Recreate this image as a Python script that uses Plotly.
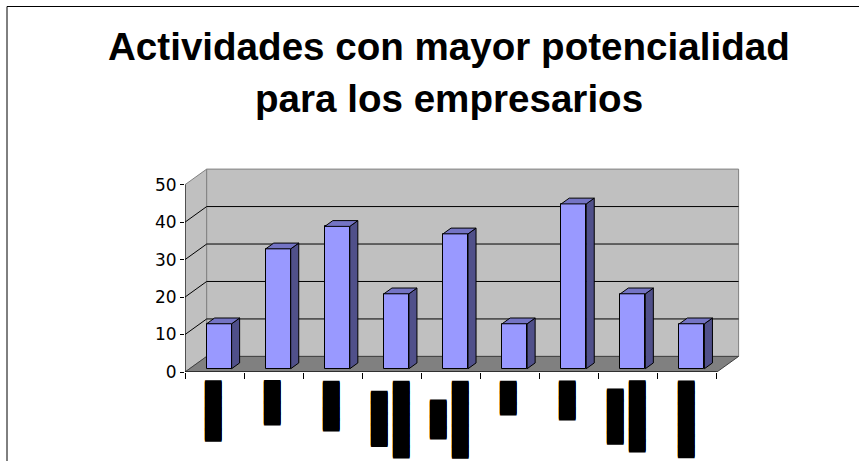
import plotly.graph_objects as go

# Category labels (rendered as solid rotated blocks) and values
categorias = [
    "█████▌",
    "████",
    "████▌",
    "█████<br>███████",
    "███▌<br>███████",
    "███",
    "███▌",
    "█████<br>██████▌",
    "███████",
]
valores = [12, 32, 38, 20, 36, 12, 44, 20, 12]
marcas_y = [0, 10, 20, 30, 40, 50]
titulo = ["Actividades con mayor potencialidad", "para los empresarios"]

W, H = 859, 461
# plot region (pixels) and pixel scale of each axis
izq, der, arriba, abajo = 185, 745, 165, 372
px_cat = 59.1
px_val = 3.746
x_ini = -0.5
x_rango = [x_ini, x_ini + (der - izq) / px_cat]
y_rango = [0, (abajo - arriba) / px_val]

def py_a_paper(py):
    return (abajo - py) / (abajo - arriba)

# depth vector of the 3D box in data units
prof_x = 21.7 / px_cat
prof_y = 15.6 / px_val
n = len(valores)
x_fin = n - 0.5
v_max = marcas_y[-1]

GRIS_PARED = "#c0c0c0"
GRIS_PISO = "#808080"
BORDE = "#808080"

def poligono(pts):
    return "M " + " L ".join(f"{x},{y}" for x, y in pts) + " Z"

shapes = []
# left wall
shapes.append(dict(type="path", xref="x", yref="y", layer="below",
                   path=poligono([(x_ini, 0), (x_ini, v_max),
                                  (x_ini + prof_x, v_max + prof_y), (x_ini + prof_x, prof_y)]),
                   fillcolor=GRIS_PARED, line=dict(color=BORDE, width=1)))
# back wall
shapes.append(dict(type="path", xref="x", yref="y", layer="below",
                   path=poligono([(x_ini + prof_x, prof_y), (x_fin + prof_x, prof_y),
                                  (x_fin + prof_x, v_max + prof_y), (x_ini + prof_x, v_max + prof_y)]),
                   fillcolor=GRIS_PARED, line=dict(color=BORDE, width=1)))
# floor
shapes.append(dict(type="path", xref="x", yref="y", layer="below",
                   path=poligono([(x_ini, 0), (x_fin, 0), (x_fin + prof_x, prof_y), (x_ini + prof_x, prof_y)]),
                   fillcolor=GRIS_PISO, line=dict(color="#404040", width=1)))
# gridlines on side and back walls
for v in marcas_y[1:-1]:
    shapes.append(dict(type="path", xref="x", yref="y", layer="below",
                       path=f"M {x_ini},{v} L {x_ini + prof_x},{v + prof_y} L {x_fin + prof_x},{v + prof_y}",
                       line=dict(color="black", width=1)))
# value axis line and front floor edge
shapes.append(dict(type="line", xref="x", yref="y", layer="below",
                   x0=x_ini, y0=0, x1=x_ini, y1=v_max, line=dict(color="black", width=1)))
shapes.append(dict(type="line", xref="x", yref="y", layer="below",
                   x0=x_ini, y0=0, x1=x_fin, y1=0, line=dict(color="black", width=1)))
# outer chart frame
shapes.append(dict(type="rect", xref="paper", yref="paper",
                   x0=(7 - izq) / (der - izq), x1=(880 - izq) / (der - izq),
                   y0=py_a_paper(480), y1=py_a_paper(6.5),
                   line=dict(color="black", width=1), fillcolor="rgba(0,0,0,0)"))

# bar geometry (depth fractions of the box)
f1, f2 = 0.21, 0.58
ancho = 25 / px_cat
base = f1 * prof_y
dbx = (f2 - f1) * prof_x
dby = (f2 - f1) * prof_y
xc = [i + f1 * prof_x for i in range(n)]

fig = go.Figure()
fig.add_trace(go.Bar(x=xc, y=valores, base=base, width=ancho,
                     marker=dict(color="#9999ff", line=dict(color="black", width=1)),
                     hoverinfo="skip", showlegend=False))

lx, ly, tx, ty = [], [], [], []
for x, v in zip(xc, valores):
    xr = x + ancho / 2
    xl = x - ancho / 2
    top = v + base
    lx += [xr, xr + dbx, xr + dbx, xr, xr, None]
    ly += [base, base + dby, top + dby, top, base, None]
    tx += [xl, xr, xr + dbx, xl + dbx, xl, None]
    ty += [top, top, top + dby, top + dby, top, None]
fig.add_trace(go.Scatter(x=lx, y=ly, mode="lines", fill="toself", fillcolor="#50508a",
                         line=dict(color="black", width=1), hoverinfo="skip", showlegend=False))
fig.add_trace(go.Scatter(x=tx, y=ty, mode="lines", fill="toself", fillcolor="#7474c4",
                         line=dict(color="black", width=1), hoverinfo="skip", showlegend=False))

annotations = []
# rotated category labels: lines centred on each other, longest line starts just below the axis
fs_lbl = 14
avance = 0.77 * fs_lbl
paso = 21.5 / px_cat
for i, texto in enumerate(categorias):
    lineas = texto.split("<br>")
    tinta = [sum(0.5 if c == "▌" else 1 for c in l) * avance for l in lineas]
    caja = [len(l) * avance for l in lineas]
    centro_tinta = 382 + max(tinta) / 2
    m = len(lineas)
    for k, l in enumerate(lineas):
        vacio = caja[k] - tinta[k]
        annotations.append(dict(
            x=i + (k - (m - 1) / 2) * paso - 2 / px_cat,
            y=py_a_paper(centro_tinta - vacio / 2),
            xref="x", yref="paper", text=l, showarrow=False, textangle=-90,
            xanchor="center", yanchor="middle",
            font=dict(family="DejaVu Sans", size=fs_lbl, color="black",
                      shadow="1px 0 0 #000, -1px 0 0 #000")))

# title lines
for linea, py in zip(titulo, [47, 99]):
    annotations.append(dict(
        x=(449 - izq) / (der - izq), y=py_a_paper(py),
        xref="paper", yref="paper", text=f"<b>{linea}</b>", showarrow=False,
        xanchor="center", yanchor="middle",
        font=dict(family="Liberation Sans, Arial", size=38.6, color="black")))

fig.update_layout(
    width=W, height=H,
    margin=dict(l=izq, r=W - der, t=arriba, b=H - abajo, pad=0),
    paper_bgcolor="white", plot_bgcolor="white",
    shapes=shapes, annotations=annotations,
    xaxis=dict(range=x_rango, tickmode="array",
               tickvals=[i - 0.5 for i in range(n + 1)], ticktext=[""] * (n + 1),
               ticks="outside", ticklen=6, tickcolor="black", tickwidth=1,
               showgrid=False, zeroline=False, showline=False, fixedrange=True),
    yaxis=dict(range=y_rango, tickmode="array", tickvals=marcas_y,
               ticks="outside", ticklen=4, tickcolor="black", tickwidth=1,
               tickfont=dict(family="DejaVu Sans", size=17, color="black"),
               showgrid=False, zeroline=False, showline=False, fixedrange=True),
    bargap=0,
)

fig.write_html("out.html", config={"displayModeBar": False})
